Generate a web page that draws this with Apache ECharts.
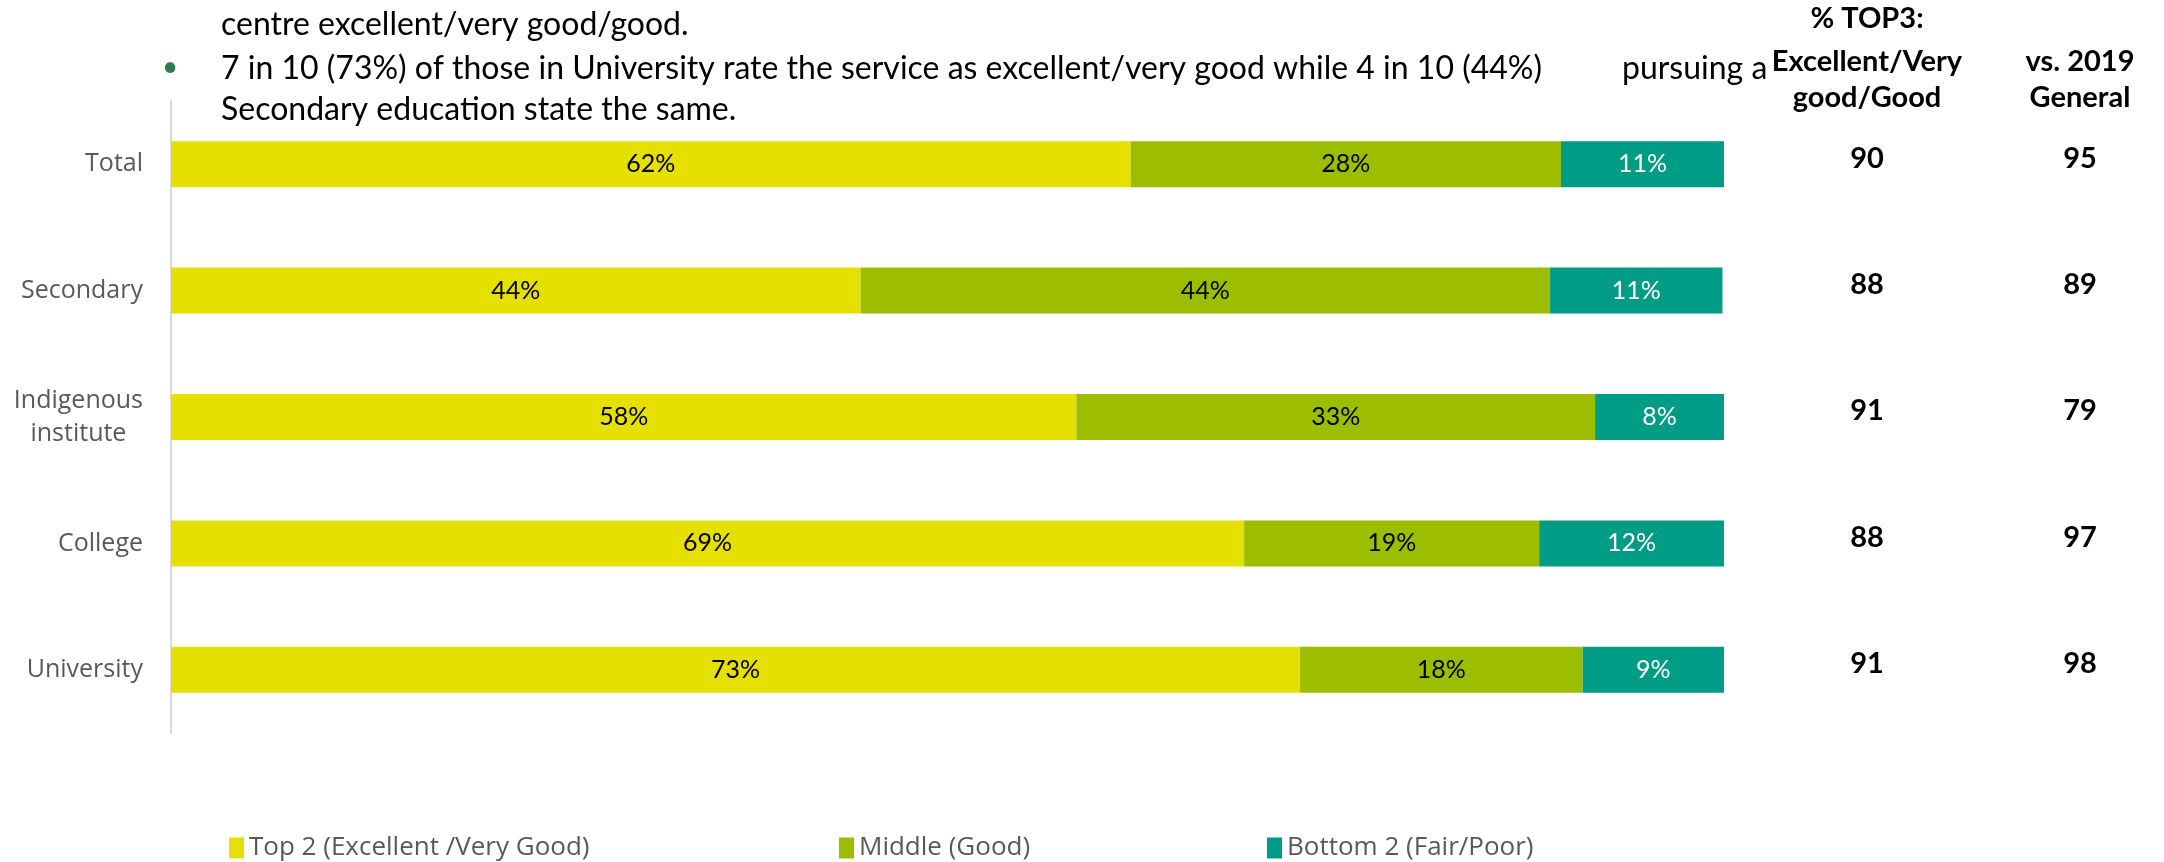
<!DOCTYPE html>
<html>
<head>
<meta charset="utf-8">
<script src="https://cdn.jsdelivr.net/npm/echarts@6/dist/echarts.min.js"></script>
<style>
html,body{margin:0;padding:0;background:#fff;}
#c{width:2164px;height:862px;}
</style>
</head>
<body>
<div id="c"></div>
<script>
const categories = ['Total', 'Secondary', 'Indigenous\ninstitute', 'College', 'University'];
const top2 = [61.8, 44.4, 58.3, 69.1, 72.7];
const middle = [27.7, 44.4, 33.4, 19.0, 18.2];
const bottom2 = [10.5, 11.1, 8.3, 11.9, 9.1];
const top3 = [90, 88, 91, 88, 91];
const vs2019 = [95, 89, 79, 97, 98];
const seriesNames = ['Top 2 (Excellent /Very Good)', 'Middle (Good)', 'Bottom 2 (Fair/Poor)'];
const headerTop3 = ['% TOP3:', 'Excellent/Very', 'good/Good'];
const headerVs = ['vs. 2019', 'General'];
const bulletLines = [
  'centre excellent/very good/good.',
  '7 in 10 (73%) of those in University rate the service as excellent/very good while 4 in 10 (44%)',
  'pursuing a',
  'Secondary education state the same.'
];

const colors = ['#E6E000', '#9CBD00', '#009C86'];
const calib = 'Lato, "Open Sans", sans-serif';
const gridLeft = 171, gridRight = 1724, gridTop = 101, gridBottom = 733;

const chart = echarts.init(document.getElementById('c'), null, {renderer: 'canvas'});

function labelFor(color) {
  return {
    show: true, position: 'inside', color: color,
    fontFamily: calib, fontSize: 25,
    formatter: p => Math.round(p.value) + '%'
  };
}

const numAxis = (vals, off) => ({
  type: 'category', data: vals.map(String), inverse: true, position: 'right', offset: off,
  axisLine: {show: false}, axisTick: {show: false},
  axisLabel: {margin: 0, align: 'center', verticalAlign: 'bottom', lineHeight: 12,
    color: '#000', fontFamily: calib, fontWeight: 'bold', fontSize: 29}
});

const hdr = (txt, x, y) => ({
  type: 'text', x: x, y: y,
  style: {text: txt, fill: '#000', font: 'bold 29px Lato, sans-serif', textAlign: 'center', textVerticalAlign: 'middle'}
});
const body = (txt, x, y) => ({
  type: 'text', x: x, y: y,
  style: {text: txt, fill: '#000', font: '32px Lato, sans-serif', textAlign: 'left', textVerticalAlign: 'middle'}
});

const legendAt = (i, left) => ({
  data: [seriesNames[i]], left: left, top: 835, padding: 0, itemWidth: 15, itemHeight: 21, icon: 'rect',
  selectedMode: false,
  textStyle: {color: '#595959', fontFamily: '"Open Sans", sans-serif', fontSize: 26}
});

chart.setOption({
  animation: false,
  color: colors,
  grid: {left: gridLeft, right: 2164 - gridRight, top: gridTop, bottom: 862 - gridBottom, containLabel: false},
  xAxis: {type: 'value', min: 0, max: 100, show: false},
  yAxis: [
    {
      type: 'category', data: categories, inverse: true,
      axisLine: {show: true, lineStyle: {color: '#D9D9D9', width: 2}},
      axisTick: {show: false},
      axisLabel: {
        margin: 28, color: '#595959', fontFamily: '"Open Sans", sans-serif', fontSize: 25,
        formatter: v => v.split('\n').map(s => '{c|' + s + '}').join('\n'),
        rich: {c: {align: 'center', color: '#595959', fontFamily: '"Open Sans", sans-serif', fontSize: 25, lineHeight: 33}}
      }
    },
    numAxis(top3, 143),
    numAxis(vs2019, 356)
  ],
  legend: [legendAt(0, 229), legendAt(1, 839), legendAt(2, 1267)],
  series: [
    {name: seriesNames[0], type: 'bar', stack: 's', barWidth: 46, data: top2, label: labelFor('#000')},
    {name: seriesNames[1], type: 'bar', stack: 's', barWidth: 46, data: middle, label: labelFor('#000')},
    {name: seriesNames[2], type: 'bar', stack: 's', barWidth: 46, data: bottom2, label: labelFor('#fff')}
  ],
  graphic: [
    hdr(headerTop3[0], 1867, 19),
    hdr(headerTop3[1], 1867, 62),
    hdr(headerTop3[2], 1867, 98),
    hdr(headerVs[0], 2080, 62),
    hdr(headerVs[1], 2080, 98),
    body(bulletLines[0], 221, 25),
    {type: 'text', x: 170, y: 67, style: {text: '•', fill: '#2E7D4F', font: '28px Lato, sans-serif', textAlign: 'center', textVerticalAlign: 'middle'}},
    body(bulletLines[1], 221, 69),
    body(bulletLines[2], 1622, 69),
    body(bulletLines[3], 221, 110)
  ]
});
</script>
</body>
</html>
